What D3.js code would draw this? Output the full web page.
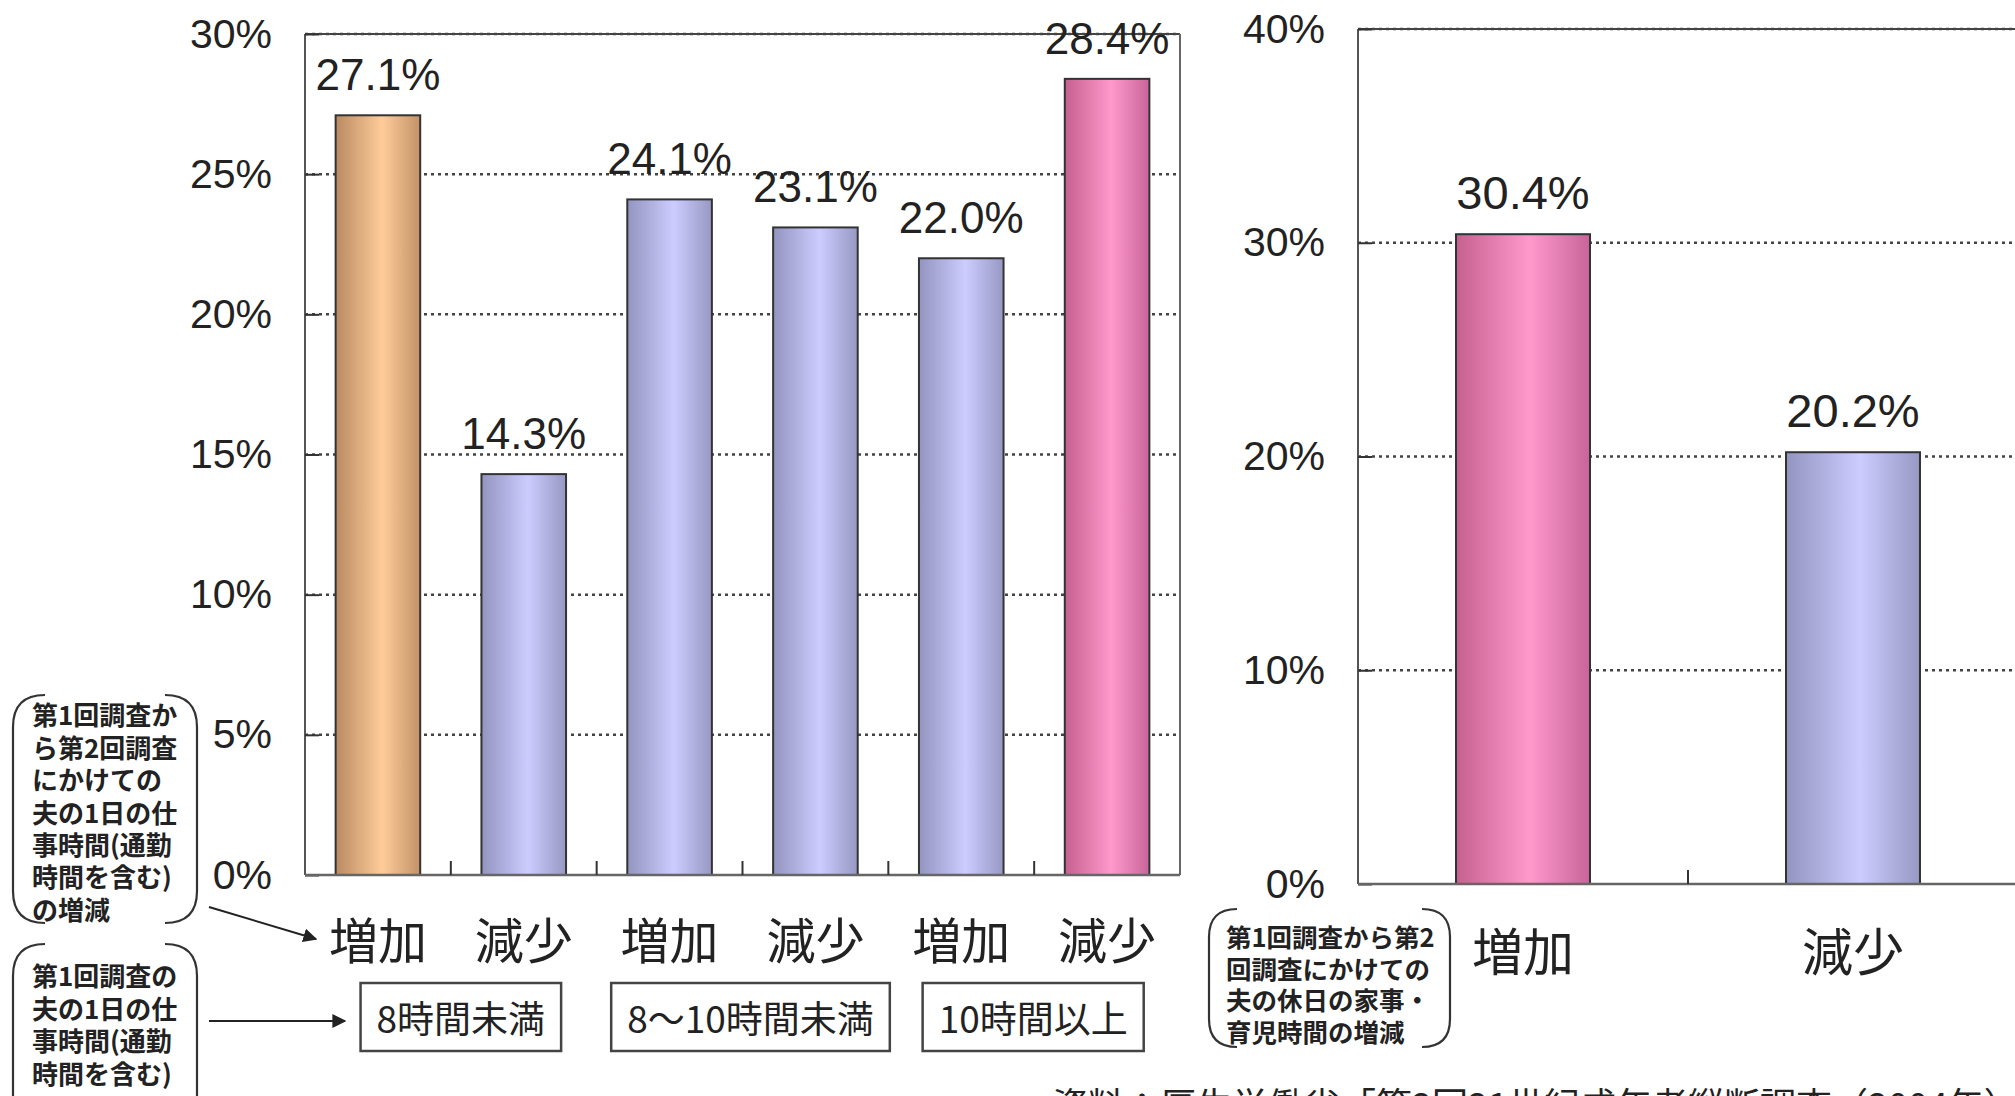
<!DOCTYPE html>
<html><head><meta charset="utf-8">
<script src="https://cdn.jsdelivr.net/npm/d3@7"></script>
<style>
html,body{margin:0;padding:0;background:#fff;}
svg{display:block;}
.num{font-family:"Liberation Sans",Arial,sans-serif;fill:#222;}
.jp{font-family:"Noto Sans CJK JP","Noto Sans",sans-serif;fill:#222;}
</style></head>
<body>
<script>
// ---- data ----
const leftCategories = ["増加","減少","増加","減少","増加","減少"];
const leftValues = [27.1, 14.3, 24.1, 23.1, 22.0, 28.4];
const leftColorKeys = ["orange","blue","blue","blue","blue","pink"];
const leftGroups = ["8時間未満","8〜10時間未満","10時間以上"];
const leftTicks = [0,5,10,15,20,25,30];

const rightCategories = ["増加","減少"];
const rightValues = [30.4, 20.2];
const rightColorKeys = ["pink","blue"];
const rightTicks = [0,10,20,30,40];

const noteLeft1 = ["第1回調査か","ら第2回調査","にかけての","夫の1日の仕","事時間(通勤","時間を含む)","の増減"];
const noteLeft2 = ["第1回調査の","夫の1日の仕","事時間(通勤","時間を含む)"];
const noteRight = ["第1回調査から第2","回調査にかけての","夫の休日の家事・","育児時間の増減"];
const sourceText = "資料：厚生労働省「第2回21世紀成年者縦断調査（2004年）」";

// ---- setup ----
const W = 2015, H = 1096;
const svg = d3.select("body").append("svg").attr("width", W).attr("height", H);
const defs = svg.append("defs");
const palette = {
  orange: ["#b98a62", "#ffcc99", "#c29268"],
  blue:   ["#9494c0", "#ccccff", "#9898c4"],
  pink:   ["#c5608f", "#ff99cc", "#c9649a"]
};
Object.entries(palette).forEach(([k, c]) => {
  const g = defs.append("linearGradient").attr("id", "g-" + k).attr("x1", "0").attr("x2", "1").attr("y1", "0").attr("y2", "0");
  g.append("stop").attr("offset", "0%").attr("stop-color", c[0]);
  g.append("stop").attr("offset", "55%").attr("stop-color", c[1]);
  g.append("stop").attr("offset", "100%").attr("stop-color", c[2]);
});
defs.append("marker").attr("id", "arrow").attr("viewBox", "0 0 10 10").attr("refX", 9).attr("refY", 5)
  .attr("markerWidth", 7).attr("markerHeight", 7).attr("orient", "auto")
  .append("path").attr("d", "M0,0 L10,5 L0,10 z").attr("fill", "#222");

function drawChart(opt) {
  const {x0, x1, yTop, yBot, max, cats, vals, colors, ticks, pi, valFont, catFont, catY, rightBorder} = opt;
  const x = d3.scaleBand().domain(d3.range(cats.length)).range([x0, x1]).paddingInner(pi).paddingOuter(pi / 2);
  const y = d3.scaleLinear().domain([0, max]).range([yBot, yTop]);
  const g = svg.append("g");
  // gridlines
  g.selectAll("line.grid").data(ticks.filter(t => t > 0)).join("line")
    .attr("x1", x0).attr("x2", x1).attr("y1", d => y(d)).attr("y2", d => y(d))
    .attr("stroke", "#444").attr("stroke-width", 2.5).attr("stroke-dasharray", "3,4");
  // frame
  g.append("line").attr("x1", x0).attr("x2", x0).attr("y1", yTop).attr("y2", yBot).attr("stroke", "#555").attr("stroke-width", 2);
  g.append("line").attr("x1", x0).attr("x2", x1).attr("y1", yTop).attr("y2", yTop).attr("stroke", "#444").attr("stroke-width", 2);
  if (rightBorder) g.append("line").attr("x1", x1).attr("x2", x1).attr("y1", yTop).attr("y2", yBot).attr("stroke", "#666").attr("stroke-width", 2);
  // y axis via d3 axis (ticks inward)
  const ya = d3.axisLeft(y).tickValues(ticks).tickFormat(d => d + "%").tickSizeInner(-14).tickSizeOuter(0).tickPadding(33);
  const yg = g.append("g").attr("transform", `translate(${x0},0)`).call(ya);
  yg.select(".domain").remove();
  yg.selectAll(".tick line").attr("stroke", "#333").attr("stroke-width", 2);
  yg.selectAll(".tick text").attr("class", "num").attr("font-size", 41).attr("fill", "#222").attr("font-family", "Liberation Sans, Arial, sans-serif");
  // bars
  g.selectAll("rect.bar").data(vals).join("rect")
    .attr("x", (d, i) => x(i)).attr("width", x.bandwidth())
    .attr("y", d => y(d)).attr("height", d => yBot - y(d))
    .attr("fill", (d, i) => `url(#g-${colors[i]})`).attr("stroke", "#333").attr("stroke-width", 2);
  // bottom axis line
  g.append("line").attr("x1", x0).attr("x2", x1).attr("y1", yBot).attr("y2", yBot).attr("stroke", "#666").attr("stroke-width", 2.5);
  // x ticks between bands
  g.selectAll("line.xt").data(d3.range(1, cats.length)).join("line")
    .attr("x1", i => x0 + i * x.step()).attr("x2", i => x0 + i * x.step())
    .attr("y1", yBot).attr("y2", yBot - 14).attr("stroke", "#333").attr("stroke-width", 2);
  // value labels
  g.selectAll("text.val").data(vals).join("text").attr("class", "num")
    .attr("x", (d, i) => x(i) + x.bandwidth() / 2).attr("y", d => y(d) - 25)
    .attr("text-anchor", "middle").attr("font-size", valFont)
    .text(d => d.toFixed(1) + "%");
  // category labels
  g.selectAll("text.cat").data(cats).join("text").attr("class", "jp")
    .attr("x", (d, i) => x(i) + x.bandwidth() / 2).attr("y", catY)
    .attr("text-anchor", "middle").attr("dominant-baseline", "central").attr("font-size", catFont)
    .text(d => d);
  return x;
}

const xl = drawChart({x0: 305, x1: 1180, yTop: 34, yBot: 875, max: 30, cats: leftCategories, vals: leftValues,
  colors: leftColorKeys, ticks: leftTicks, pi: 0.42, valFont: 44, catFont: 49, catY: 937, rightBorder: true});
const xr = drawChart({x0: 1358, x1: 2018, yTop: 29, yBot: 884, max: 40, cats: rightCategories, vals: rightValues,
  colors: rightColorKeys, ticks: rightTicks, pi: 0.594, valFont: 47, catFont: 51, catY: 949, rightBorder: false});

// group boxes
const boxShift = [10, 8, -1];
leftGroups.forEach((name, gi) => {
  const cx = 305 + (gi * 2 + 1) * xl.step() + boxShift[gi];
  const t = svg.append("text").attr("class", "jp").attr("x", cx).attr("y", 1017)
    .attr("text-anchor", "middle").attr("dominant-baseline", "central").attr("font-size", 37).text(name);
  const bb = t.node().getBBox();
  svg.append("rect").attr("x", bb.x - 16).attr("y", 983).attr("width", bb.width + 32).attr("height", 68)
    .attr("fill", "none").attr("stroke", "#444").attr("stroke-width", 2.5);
});

// bracket notes
function bracket(x0, y0, x1, y1, r) {
  const p = d3.path();
  p.moveTo(x0 + r, y0); p.quadraticCurveTo(x0, y0, x0, y0 + r); p.lineTo(x0, y1 - r); p.quadraticCurveTo(x0, y1, x0 + r, y1);
  p.moveTo(x1 - r, y0); p.quadraticCurveTo(x1, y0, x1, y0 + r); p.lineTo(x1, y1 - r); p.quadraticCurveTo(x1, y1, x1 - r, y1);
  svg.append("path").attr("d", p.toString()).attr("fill", "none").attr("stroke", "#333").attr("stroke-width", 2.2);
}
function noteText(lines, x, y0, pitch, size) {
  const t = svg.append("text").attr("class", "jp").attr("font-size", size).attr("font-weight", "bold").attr("fill", "#3a3a3a");
  t.selectAll("tspan").data(lines).join("tspan")
    .attr("x", x).attr("y", (d, i) => y0 + i * pitch + size * 0.36).text(d => d);
}
bracket(13, 695, 197, 923, 32);
noteText(noteLeft1, 32, 716, 32.4, 26);
bracket(13, 944, 197, 1130, 32);
noteText(noteLeft2, 32, 977, 32.4, 26);
bracket(1209, 909, 1450, 1047, 28);
noteText(noteRight, 1226, 938, 31.5, 25.5);

// arrows
svg.append("line").attr("x1", 209).attr("y1", 907).attr("x2", 316).attr("y2", 939)
  .attr("stroke", "#222").attr("stroke-width", 2).attr("marker-end", "url(#arrow)");
svg.append("line").attr("x1", 209).attr("y1", 1021).attr("x2", 345).attr("y2", 1021)
  .attr("stroke", "#222").attr("stroke-width", 2).attr("marker-end", "url(#arrow)");

// source (partially cut off at bottom)
svg.append("text").attr("class", "jp").attr("x", 1052).attr("y", 1119).attr("font-size", 36).attr("fill", "#333").text(sourceText);
</script>
</body></html>
